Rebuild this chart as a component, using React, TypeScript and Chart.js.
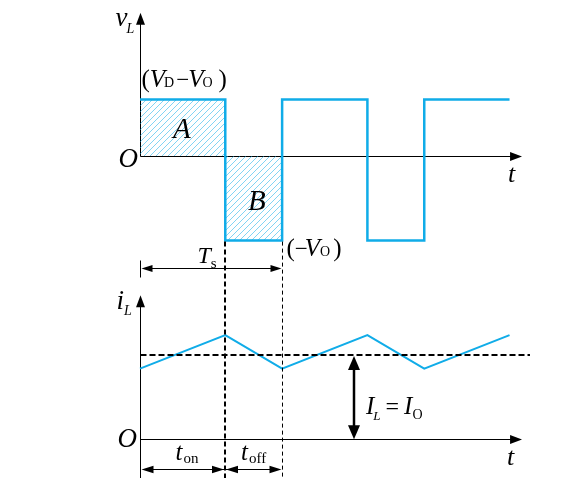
import React, { useEffect, useRef } from "react";
import { Chart, registerables } from "chart.js";

Chart.register(...registerables);

// ---- data (time in units where t_on = 1.5, t_off = 1) ----
const switchTimes = [0, 1.5, 2.5, 4, 5, 6.5];
const vLevels = [1, -1.5, 1, -1.5, 1]; // v_L per interval: (V_D - V_O), (-V_O), ...
const iLTimes = [0, 1.5, 2.5, 4, 5, 6.5];
const iLValues = [0.833, 1.229, 0.833, 1.229, 0.833, 1.229];
const iAvg = 1.0; // I_L = I_O

// axis extents (data units)
const tAxisEnd = 6.72;
const vAxisTop = 2.54;
const iAxisTop = 1.7;
const iAxisBottom = -0.47;
const avgLineEnd = 6.86;
const tsArrowLevel = -1.98; // in v units
const tArrowLevel = -0.345; // in i units
const ioArrowTime = 3.765;

const BLUE = "#10ace8";
const SERIF = "'Liberation Serif', 'Times New Roman', serif";

type Part = { text: string; size: number; italic?: boolean; dy?: number; dx?: number };

function drawParts(ctx: CanvasRenderingContext2D, parts: Part[], x: number, y: number) {
  let cx = x;
  for (const p of parts) {
    ctx.font = `${p.italic ? "italic " : ""}${p.size}px ${SERIF}`;
    cx += p.dx || 0;
    ctx.fillText(p.text, cx, y + (p.dy || 0));
    cx += ctx.measureText(p.text).width;
  }
}

function arrowHead(ctx: CanvasRenderingContext2D, tx: number, ty: number, dx: number, dy: number, len: number, hw: number) {
  const px = -dy, py = dx;
  ctx.beginPath();
  ctx.moveTo(tx, ty);
  ctx.lineTo(tx - dx * len + px * hw, ty - dy * len + py * hw);
  ctx.lineTo(tx - dx * len - px * hw, ty - dy * len - py * hw);
  ctx.closePath();
  ctx.fill();
}

function line(ctx: CanvasRenderingContext2D, x1: number, y1: number, x2: number, y2: number) {
  ctx.beginPath();
  ctx.moveTo(x1, y1);
  ctx.lineTo(x2, y2);
  ctx.stroke();
}

const overlay = {
  id: "overlay",
  beforeDatasetsDraw(chart: any) {
    const ctx: CanvasRenderingContext2D = chart.ctx;
    const X = chart.scales.x, V = chart.scales.yV, I = chart.scales.yI;
    const x0 = Math.round(X.getPixelForValue(0)) + 0.5;
    const xEnd = X.getPixelForValue(tAxisEnd);
    const v0 = Math.round(V.getPixelForValue(0)) + 0.5;
    const i0 = Math.round(I.getPixelForValue(0)) + 0.5;
    ctx.save();
    ctx.strokeStyle = "#000";
    ctx.fillStyle = "#000";
    ctx.lineWidth = 1;
    // top axes
    const vTop = V.getPixelForValue(vAxisTop);
    line(ctx, x0, v0, x0, vTop + 8);
    arrowHead(ctx, x0, vTop, 0, -1, 12, 4.5);
    line(ctx, x0, v0, xEnd - 8, v0);
    arrowHead(ctx, xEnd, v0, 1, 0, 12, 4.5);
    // bottom axes
    const iTop = I.getPixelForValue(iAxisTop);
    line(ctx, x0, I.getPixelForValue(iAxisBottom), x0, iTop + 8);
    arrowHead(ctx, x0, iTop, 0, -1, 12, 4.5);
    line(ctx, x0, i0, xEnd - 8, i0);
    arrowHead(ctx, xEnd, i0, 1, 0, 12, 4.5);
    ctx.restore();
  },
  afterDatasetsDraw(chart: any) {
    const ctx: CanvasRenderingContext2D = chart.ctx;
    const X = chart.scales.x, V = chart.scales.yV, I = chart.scales.yI;
    const bottom = chart.height;
    const x0 = Math.round(X.getPixelForValue(0)) + 0.5;
    const xOnEnd = Math.round(X.getPixelForValue(switchTimes[1]));
    const xOffEnd = Math.round(X.getPixelForValue(switchTimes[2])) + 0.5;
    const yLow = V.getPixelForValue(vLevels[1]);
    ctx.save();
    ctx.strokeStyle = "#000";
    ctx.fillStyle = "#000";

    // vertical dashed lines
    ctx.lineWidth = 2;
    ctx.setLineDash([5, 3]);
    line(ctx, xOnEnd, yLow + 1, xOnEnd, bottom);
    ctx.lineWidth = 1;
    ctx.setLineDash([4, 3]);
    line(ctx, xOffEnd, yLow + 1, xOffEnd, bottom);

    // average current dashed line
    ctx.lineWidth = 2;
    ctx.setLineDash([6, 3]);
    const yAvg = Math.round(I.getPixelForValue(iAvg));
    line(ctx, x0, yAvg, X.getPixelForValue(avgLineEnd), yAvg);
    ctx.setLineDash([]);

    // Ts arrow
    ctx.lineWidth = 1;
    const yTs = Math.round(V.getPixelForValue(tsArrowLevel)) + 0.5;
    line(ctx, x0, yTs - 8, x0, yTs + 9);
    line(ctx, x0 + 6, yTs, xOffEnd - 6, yTs);
    arrowHead(ctx, x0 + 1, yTs, -1, 0, 11, 3.5);
    arrowHead(ctx, xOffEnd - 1, yTs, 1, 0, 11, 3.5);

    // t_on / t_off arrows
    const yT = Math.round(I.getPixelForValue(tArrowLevel)) + 0.5;
    ctx.lineWidth = 1.2;
    line(ctx, x0 + 6, yT, xOffEnd - 6, yT);
    arrowHead(ctx, x0 + 1, yT, -1, 0, 12, 3.8);
    arrowHead(ctx, xOnEnd - 1, yT, 1, 0, 12, 3.8);
    arrowHead(ctx, xOnEnd + 1, yT, -1, 0, 12, 3.8);
    arrowHead(ctx, xOffEnd - 1, yT, 1, 0, 12, 3.8);

    // I_L = I_O arrow
    const xIo = Math.round(X.getPixelForValue(ioArrowTime));
    const yI0 = I.getPixelForValue(0);
    ctx.lineWidth = 2.5;
    line(ctx, xIo, yAvg + 10, xIo, yI0 - 10);
    arrowHead(ctx, xIo, yAvg + 1, 0, -1, 14, 6);
    arrowHead(ctx, xIo, yI0, 0, 1, 14, 6);

    // ---- texts ----
    ctx.textBaseline = "alphabetic";
    ctx.textAlign = "left";
    const v0 = V.getPixelForValue(0);
    const vHighPx = V.getPixelForValue(vLevels[0]);
    const i0 = I.getPixelForValue(0);
    const xAxisEndPx = X.getPixelForValue(tAxisEnd);

    drawParts(ctx, [
      { text: "v", size: 27, italic: true },
      { text: "L", size: 14, italic: true, dy: 7, dx: -1 },
    ], x0 - 25, V.getPixelForValue(vAxisTop) + 13);

    drawParts(ctx, [
      { text: "(", size: 25 },
      { text: "V", size: 25, italic: true },
      { text: "D", size: 14, dx: -1 },
      { text: "−", size: 23, dx: 2 },
      { text: "V", size: 25, italic: true, dx: -1 },
      { text: "O", size: 14, dx: -1 },
      { text: ")", size: 25, dx: 6 },
    ], x0 + 1, vHighPx - 13);

    ctx.font = `italic 29px ${SERIF}`;
    ctx.textAlign = "center";
    ctx.fillText("A", (x0 + xOnEnd) / 2 - 1, (vHighPx + v0) / 2 + 10);
    ctx.fillText("B", (xOnEnd + xOffEnd) / 2 + 3, (v0 + yLow) / 2 + 12);
    ctx.textAlign = "left";

    ctx.font = `italic 27px ${SERIF}`;
    ctx.fillText("O", x0 - 22, v0 + 11);
    ctx.fillText("O", x0 - 23, i0 + 8);
    ctx.font = `italic 26px ${SERIF}`;
    ctx.fillText("t", xAxisEndPx - 14, v0 + 26);
    ctx.fillText("t", xAxisEndPx - 15, i0 + 26);

    drawParts(ctx, [
      { text: "(", size: 25 },
      { text: "−", size: 23 },
      { text: "V", size: 25, italic: true, dx: -3 },
      { text: "O", size: 14, dx: 0 },
      { text: ")", size: 25, dx: 3 },
    ], xOffEnd + 4, yLow + 15);

    drawParts(ctx, [
      { text: "T", size: 24, italic: true },
      { text: "s", size: 15, dy: 5, dx: 0 },
    ], x0 + 57, yTs - 6);

    drawParts(ctx, [
      { text: "i", size: 27, italic: true },
      { text: "L", size: 14, italic: true, dy: 6, dx: 0 },
    ], x0 - 24, I.getPixelForValue(iAxisTop) + 14);

    drawParts(ctx, [
      { text: "t", size: 25, italic: true },
      { text: "on", size: 15, dy: 3, dx: 1 },
    ], x0 + 35, yT - 10);
    drawParts(ctx, [
      { text: "t", size: 25, italic: true },
      { text: "off", size: 15, dy: 3, dx: 1 },
    ], xOnEnd + 16, yT - 10);

    drawParts(ctx, [
      { text: "I", size: 25, italic: true },
      { text: "L", size: 13, italic: true, dy: 6, dx: -1 },
      { text: "=", size: 24, dx: 5 },
      { text: "I", size: 25, italic: true, dx: 5 },
      { text: "O", size: 14, dy: 5, dx: 0 },
    ], xIo + 12, yI0 - 25);

    ctx.restore();
  },
};

function makeHatch(): CanvasPattern | string {
  const c = document.createElement("canvas");
  const s = 6;
  c.width = s;
  c.height = s;
  const g = c.getContext("2d");
  if (!g) return "rgba(16,172,232,0.3)";
  g.strokeStyle = "rgba(16,172,232,0.75)";
  g.lineWidth = 0.7;
  g.beginPath();
  g.moveTo(-1, s + 1);
  g.lineTo(s + 1, -1);
  g.moveTo(-1, 1);
  g.lineTo(1, -1);
  g.moveTo(s - 1, s + 1);
  g.lineTo(s + 1, s - 1);
  g.stroke();
  const p = g.createPattern(c, "repeat");
  return p || "rgba(16,172,232,0.3)";
}

export default function App() {
  const ref = useRef<HTMLCanvasElement | null>(null);
  useEffect(() => {
    if (!ref.current) return;
    const hatch = makeHatch();
    const vPoints: { x: number; y: number }[] = [];
    for (let k = 0; k < vLevels.length; k++) {
      vPoints.push({ x: switchTimes[k], y: vLevels[k] });
      vPoints.push({ x: switchTimes[k + 1], y: vLevels[k] });
    }
    const iPoints = iLTimes.map((t, k) => ({ x: t, y: iLValues[k] }));
    const areaA = [
      { x: switchTimes[0], y: vLevels[0] },
      { x: switchTimes[1], y: vLevels[0] },
    ];
    const areaB = [
      { x: switchTimes[1], y: vLevels[1] },
      { x: switchTimes[2], y: vLevels[1] },
    ];
    const chart = new Chart(ref.current, {
      type: "line",
      data: {
        datasets: [
          {
            label: "vL",
            data: vPoints,
            yAxisID: "yV",
            borderColor: BLUE,
            borderWidth: 2.5,
            pointRadius: 0,
            fill: false,
            tension: 0,
          },
          {
            label: "iL",
            data: iPoints,
            yAxisID: "yI",
            borderColor: BLUE,
            borderWidth: 2,
            pointRadius: 0,
            fill: false,
            tension: 0,
          },
          {
            label: "A",
            data: areaA,
            yAxisID: "yV",
            borderWidth: 0,
            borderColor: "rgba(0,0,0,0)",
            backgroundColor: hatch as any,
            pointRadius: 0,
            fill: "origin",
          },
          {
            label: "B",
            data: areaB,
            yAxisID: "yV",
            borderWidth: 0,
            borderColor: "rgba(0,0,0,0)",
            backgroundColor: hatch as any,
            pointRadius: 0,
            fill: "origin",
          },
        ],
      },
      options: {
        animation: false,
        responsive: false,
        devicePixelRatio: 1,
        events: [],
        layout: { padding: 0 },
        plugins: { legend: { display: false }, tooltip: { enabled: false } },
        scales: {
          x: { type: "linear", display: false, min: -2.4626, max: 7.8276 },
          yV: { type: "linear", display: false, position: "left", min: -5.709, max: 2.766 },
          yI: { type: "linear", display: false, position: "left", min: -0.456, max: 5.18 },
        },
      },
      plugins: [overlay],
    });
    return () => chart.destroy();
  }, []);
  return (
    <div style={{ position: "absolute", left: 0, top: 0, width: 585, height: 478, background: "#fff" }}>
      <canvas ref={ref} width={585} height={478} />
    </div>
  );
}
